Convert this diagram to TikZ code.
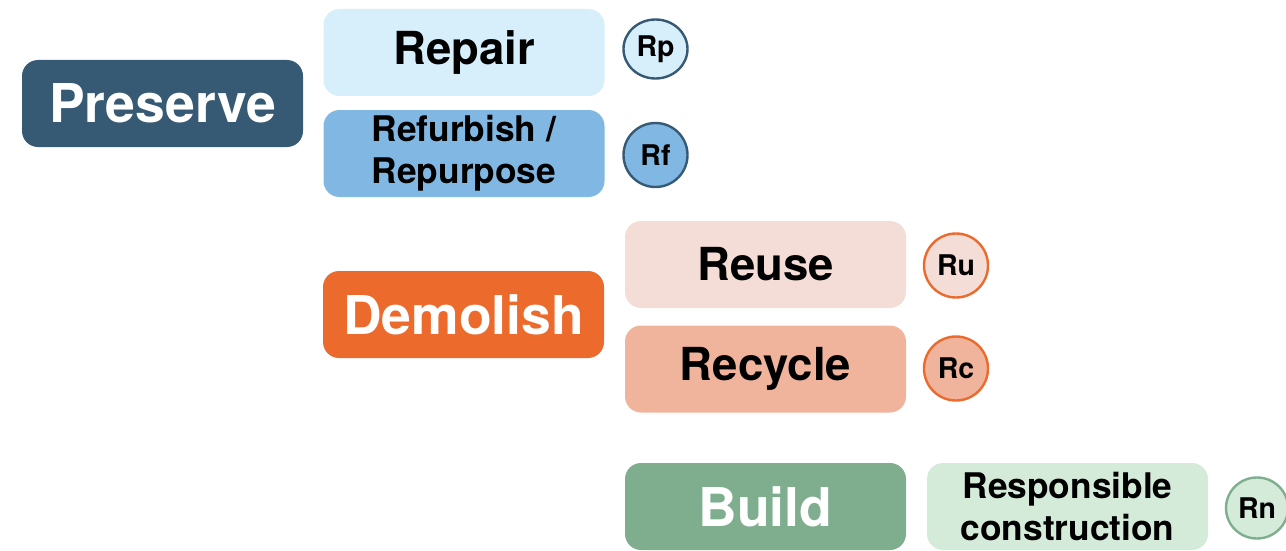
\documentclass[tikz,border=0pt]{standalone}
\usepackage{fontspec}
\setmainfont{TeX Gyre Heros}
\usetikzlibrary{shapes.geometric}
\definecolor{cPre}{HTML}{365A73}
\definecolor{cRep}{HTML}{D7EEFB}
\definecolor{cRef}{HTML}{80B8E3}
\definecolor{cDem}{HTML}{EC6A2C}
\definecolor{cReu}{HTML}{F4DDD6}
\definecolor{cRec}{HTML}{F0B49D}
\definecolor{cBui}{HTML}{7FAE8F}
\definecolor{cRes}{HTML}{D5EBDA}
\tikzset{
  box/.style={rectangle, rounded corners=16pt, minimum width=281pt, minimum height=87pt, inner sep=0pt, align=center, font=\bfseries},
  bigtxt/.style={font=\fontsize{53.5}{58}\selectfont\bfseries},
  midtxt/.style={font=\fontsize{45.5}{50}\selectfont\bfseries},
  smalltxt/.style={font=\fontsize{35.3}{42}\selectfont\bfseries},
  badge/.style={ellipse, minimum width=64pt, minimum height=64pt, inner sep=0pt, line width=2.4pt, font=\fontsize{28.5}{30}\selectfont\bfseries},
}
\begin{document}
\begin{tikzpicture}[x=1pt,y=-1pt]
\useasboundingbox (0,0) rectangle (1286,551);
% Preserve group
\node[box, bigtxt, fill=cPre, text=white] (preserve) at (162.5,103.5) {Preserve};
\node[box, midtxt, fill=cRep] (repair) at (464,52.5) {Repair};
\node[box, smalltxt, fill=cRef] (refurb) at (464,153.5) {Refurbish /\\Repurpose};
\node[badge, fill=cRep, draw=cPre, minimum height=59pt] (rp) at (655.5,49) {Rp};
\node[badge, fill=cRef, draw=cPre] (rf) at (655.5,155) {Rf};
% Demolish group
\node[box, bigtxt, fill=cDem, text=white] (demolish) at (463.5,314.5) {Demolish};
\node[box, midtxt, fill=cReu] (reuse) at (765.5,264.5) {Reuse};
\node[box, midtxt, fill=cRec] (recycle) at (765.5,369) {Recycle};
\node[badge, fill=cReu, draw=cDem] (ru) at (956,265.5) {Ru};
\node[badge, fill=cRec, draw=cDem] (rc) at (956,368.5) {Rc};
% Build group
\node[box, bigtxt, fill=cBui, text=white] (build) at (765.5,506.5) {Build};
\node[box, smalltxt, fill=cRes] (resp) at (1067.5,506.5) {Responsible\\construction};
\node[badge, fill=cRes, draw=cBui, minimum width=62pt, minimum height=61pt] (rn) at (1257,508) {Rn};
\end{tikzpicture}
\end{document}
